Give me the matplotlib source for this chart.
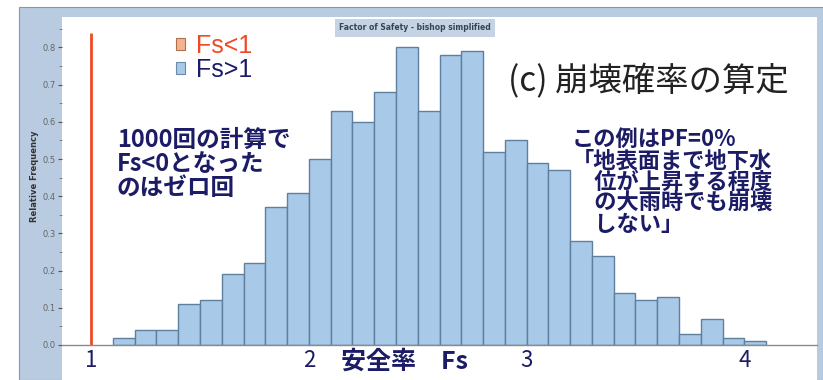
import matplotlib
matplotlib.use('Agg')
import matplotlib.pyplot as plt
from matplotlib.patches import Patch, Rectangle
from matplotlib.ticker import MultipleLocator, FormatStrFormatter

plt.rcParams['font.family'] = ['Noto Sans CJK JP', 'DejaVu Sans']

# histogram of the factor of safety (bins 0.1 wide, lower edges)
fs_bins = [1.1, 1.2, 1.3, 1.4, 1.5, 1.6, 1.7, 1.8, 1.9, 2.0,
           2.1, 2.2, 2.3, 2.4, 2.5, 2.6, 2.7, 2.8, 2.9, 3.0,
           3.1, 3.2, 3.3, 3.4, 3.5, 3.6, 3.7, 3.8, 3.9, 4.0]
rel_freq = [0.02, 0.04, 0.04, 0.11, 0.12, 0.19, 0.22, 0.37, 0.41, 0.50,
            0.63, 0.60, 0.68, 0.80, 0.63, 0.78, 0.79, 0.52, 0.55, 0.49,
            0.47, 0.28, 0.24, 0.14, 0.12, 0.13, 0.03, 0.07, 0.02, 0.01]
bin_width = 0.1
fs_limit = 1.0
limit_line_top = 0.84

x_ticks = [1, 2, 3, 4]
x_tick_labels = ['1', '2', '3', '4']
legend_labels = ['Fs<1', 'Fs>1']

NAVY = '#1c1c66'
BAR_FILL = '#a9c9e8'
BAR_EDGE = '#5f7f9f'
RED = '#ef4a26'

W, H = 823, 380


def fx(px):
    return px / W


def fy(py):
    return 1 - py / H


fig = plt.figure(figsize=(W / 100, H / 100), dpi=100)
fig.patch.set_facecolor('white')

# slide frame: light blue panel with white plotting area (drawn behind the axes)
fig.patches.append(Rectangle((fx(19), 0), 1 - fx(19), fy(7), transform=fig.transFigure,
                             facecolor='#b9cbe0', edgecolor='#8797a8', lw=0.8, zorder=-2))
fig.patches.append(Rectangle((fx(62), 0), fx(817) - fx(62), fy(17), transform=fig.transFigure,
                             facecolor='white', edgecolor='none', zorder=-1))

ax = fig.add_axes([fx(62), fy(345), fx(817) - fx(62), fy(17) - fy(345)])
ax.patch.set_alpha(0)

ax.bar(fs_bins, rel_freq, width=bin_width, align='edge',
       color=BAR_FILL, edgecolor=BAR_EDGE, linewidth=1.0)
ax.vlines(fs_limit, 0, limit_line_top, color=RED, lw=2.0)

ax.set_xlim(0.866, 4.334)
ax.set_ylim(0, 0.882)

for side in ['top', 'right', 'left']:
    ax.spines[side].set_visible(False)
ax.spines['bottom'].set_color('#8a8a8a')
ax.spines['bottom'].set_linewidth(1.0)

ax.yaxis.set_major_locator(MultipleLocator(0.1))
ax.yaxis.set_minor_locator(MultipleLocator(0.05))
ax.yaxis.set_major_formatter(FormatStrFormatter('%.1f'))
ax.tick_params(axis='y', which='major', length=3, width=0.8, color='#555555',
               labelsize=6, labelcolor='#666666', pad=1.5)
ax.tick_params(axis='y', which='minor', length=2, width=0.6, color='#777777')
for lbl in ax.get_yticklabels():
    lbl.set_family('DejaVu Sans')

ax.set_xticks(x_ticks)
ax.set_xticklabels(x_tick_labels)
ax.tick_params(axis='x', length=0, labelsize=16, labelcolor=NAVY, pad=3)

ax.set_ylabel('Relative Frequency', fontsize=6, fontweight='bold',
              color='#333333', family='DejaVu Sans')
ax.yaxis.set_label_coords(-0.0305, 0.515)

fig.text(fx(415), fy(28), 'Factor of Safety - bishop simplified', fontsize=5.5,
         fontweight='bold', color='#334455', family='DejaVu Sans',
         ha='center', va='center',
         bbox=dict(boxstyle='square,pad=0.6', facecolor='#c6d3e4', edgecolor='none'))

handles = [Patch(facecolor='#f2b38e', edgecolor='#b07050', lw=0.8),
           Patch(facecolor=BAR_FILL, edgecolor='#6a8aaa', lw=0.8)]
leg = ax.legend(handles, legend_labels, loc='upper left',
                bbox_to_anchor=(fx(176), fy(34)), bbox_transform=fig.transFigure,
                frameon=False, borderpad=0, borderaxespad=0,
                handlelength=0.36, handleheight=0.36, handletextpad=0.45,
                labelspacing=0.0, prop={'family': 'Liberation Sans', 'size': 18})
leg.get_texts()[0].set_color(RED)
leg.get_texts()[1].set_color(NAVY)

fig.text(fx(508), fy(82), '(c) 崩壊確率の算定', fontsize=24, color='#222222',
         ha='left', va='center')

fig.text(fx(117), fy(128), '1000回の計算で\nFs<0となった\nのはゼロ回',
         fontsize=17, fontweight='bold', color=NAVY, ha='left', va='top',
         linespacing=1.0)

fig.text(fx(572), fy(128),
         'この例はPF=0%\n「地表面まで地下水\n　位が上昇する程度\n　の大雨時でも崩壊\n　しない」',
         fontsize=16, fontweight='bold', color=NAVY, ha='left', va='top',
         linespacing=0.9)

fig.text(fx(341), fy(362), '安全率　Fs', fontsize=18, fontweight='bold',
         color=NAVY, ha='left', va='center')

fig.savefig('out.png', dpi=100)
